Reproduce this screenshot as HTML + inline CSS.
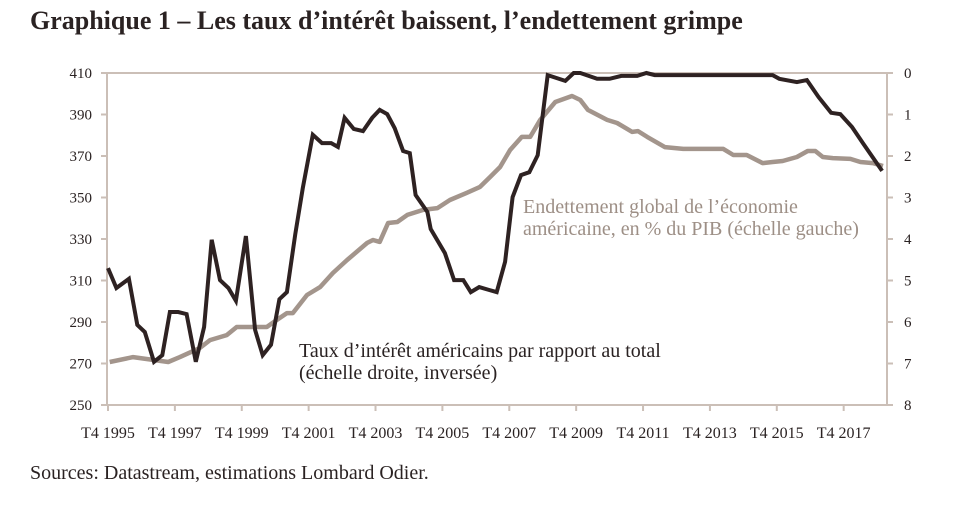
<!DOCTYPE html>
<html><head><meta charset="utf-8"><style>
body{margin:0;background:#fff;width:960px;height:501px;overflow:hidden;font-family:"Liberation Serif",serif;}
svg text{font-family:"Liberation Serif",serif;}
</style></head><body>
<svg width="960" height="501">
<text x="30" y="29" font-size="26" font-weight="bold" fill="#2a2222">Graphique 1 – Les taux d’intérêt baissent, l’endettement grimpe</text>
<g id="axes"></g>
<g id="series"></g>
<text x="523" y="213" font-size="20" fill="#9d8f86">Endettement global de l’économie</text>
<text x="523" y="235" font-size="20" fill="#9d8f86">américaine, en % du PIB (échelle gauche)</text>
<text x="299" y="357" font-size="20" fill="#2a2222">Taux d’intérêt américains par rapport au total</text>
<text x="299" y="379" font-size="20" fill="#2a2222">(échelle droite, inversée)</text>
<text x="30" y="479" font-size="20" fill="#2a2222">Sources: Datastream, estimations Lombard Odier.</text>
</svg>
<script>
const leftTicks=[410,390,370,350,330,310,290,270,250];
const rightTicks=[0,1,2,3,4,5,6,7,8];
const xTickLabels=["T4 1995","T4 1997","T4 1999","T4 2001","T4 2003","T4 2005","T4 2007","T4 2009","T4 2011","T4 2013","T4 2015","T4 2017"];
const rateQuarters=[0,1,2.5,3.5,4.4,5.5,6.5,7.4,8.4,9.4,10.5,11.5,12.4,13.4,14.4,15.3,16.5,17.6,18.5,19.5,20.5,21.4,22.4,23.3,24.5,25.6,26.7,27.5,28.3,29.4,30.5,31.6,32.5,33.4,34.3,35.3,36.1,36.8,38.2,38.6,40.3,41.4,42.5,43.4,44.4,45.6,46.5,47.5,48.4,49.4,50.4,51.4,52.6,54.7,55.7,56.5,58.5,60,61.4,63.3,64.4,65.4,79.5,80.3,82.4,83.6,85,86.5,87.6,89,90.3,92.6];
const rateValues=[4.70,5.18,4.96,6.07,6.24,6.96,6.80,5.76,5.76,5.81,6.96,6.12,4.02,4.99,5.18,5.49,3.93,6.19,6.80,6.55,5.45,5.28,3.88,2.77,1.49,1.69,1.69,1.78,1.08,1.35,1.40,1.08,0.89,0.99,1.33,1.88,1.93,2.94,3.35,3.76,4.34,4.99,4.99,5.28,5.16,5.23,5.28,4.55,2.99,2.46,2.39,1.98,0.05,0.19,0,0,0.14,0.14,0.07,0.07,0,0.05,0.05,0.14,0.22,0.17,0.58,0.96,0.99,1.30,1.69,2.36];
const debtQuarters=[0.2,3,7.2,8.6,11,12.2,14.2,15.4,17.3,19,20.2,21.4,22.1,23.8,25.4,26.9,28.6,31,31.7,32.5,33.5,34.6,35.8,37.7,39.4,40.9,42.9,44.5,45.7,46.9,48.1,49.5,50.5,51.7,53.5,55.5,56.5,57.4,59.7,60.9,62.7,63.4,64.5,66.6,68.8,73.6,74.8,76.4,78.3,79.5,80.7,82.4,83.7,84.6,85.5,86.7,88.8,90,91.5,92.7];
const debtValues=[270.7,273.1,270.7,273.1,277.5,281.3,283.7,287.6,287.6,287.6,291,294.3,294.3,303,306.9,313.6,319.9,328.1,329.5,328.6,337.7,338.2,341.6,344,344.9,348.8,352.2,355.1,359.9,364.7,372.9,379.2,379.2,387.4,396,398.9,397,392.2,387.4,385.9,381.6,382,379.2,374.3,373.4,373.4,370.5,370.5,366.6,367.1,367.6,369.5,372.4,372.4,369.5,369,368.6,367.1,366.6,365.2];

const X0=108,QW=8.36,Y0=73,Y1=405,XL=107,XR=887;
const xs=q=>X0+q*QW;
const yl=v=>Y0+(410-v)/160*(Y1-Y0);
const yr=v=>Y0+v/8*(Y1-Y0);
const NS="http://www.w3.org/2000/svg";
const axes=document.getElementById('axes'),series=document.getElementById('series');
function mk(tag,attrs,parent){const e=document.createElementNS(NS,tag);for(const k in attrs)e.setAttribute(k,attrs[k]);parent.appendChild(e);return e;}
const ac="#cbbfb7";
let f=mk('path',{d:`M${XL},${Y0}H${XR}V${Y1}H${XL}Z`,fill:'none',stroke:ac,'stroke-width':2},axes);


leftTicks.forEach(v=>{
 const y=yl(v);
 let t=mk('line',{x1:XL-6,x2:XL,y1:y,y2:y,stroke:ac,'stroke-width':2},axes);
 
 
 let l=mk('text',{x:92,y:y+5,'text-anchor':'end','font-size':15,fill:'#2a2222'},axes);l.textContent=v;
 
 
});
rightTicks.forEach(v=>{
 const y=yr(v);
 let t=mk('line',{x1:XR,x2:XR+6,y1:y,y2:y,stroke:ac,'stroke-width':2},axes);
 
 
 let l=mk('text',{x:904,y:y+5,'font-size':15,fill:'#2a2222'},axes);l.textContent=v;
 
 
});
xTickLabels.forEach((s,i)=>{
 const x=xs(i*8);
 let t=mk('line',{x1:x,x2:x,y1:Y1,y2:Y1+6,stroke:ac,'stroke-width':2},axes);
 
 
 let l=mk('text',{x:x,y:438,'text-anchor':'middle','font-size':16,fill:'#2a2222'},axes);l.textContent=s;
 
 
});
let dp=mk('path',{d:debtQuarters.map((q,i)=>(i?'L':'M')+xs(q).toFixed(1)+','+yl(debtValues[i]).toFixed(1)).join(''),fill:'none',stroke:'#a3958c','stroke-width':4.5,'stroke-linejoin':'round'},series);


let rp=mk('path',{d:rateQuarters.map((q,i)=>(i?'L':'M')+xs(q).toFixed(1)+','+yr(rateValues[i]).toFixed(1)).join(''),fill:'none',stroke:'#2e2222','stroke-width':4,'stroke-linejoin':'miter'},series);


</script>
</body></html>
